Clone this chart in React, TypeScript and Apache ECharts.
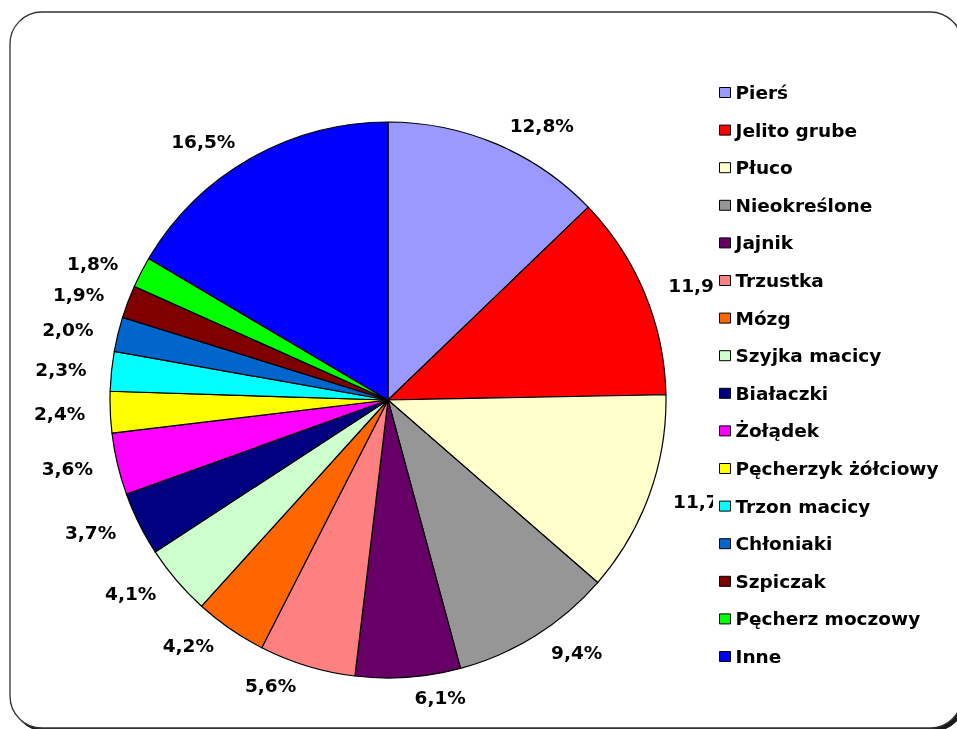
import React, { useEffect, useRef } from "react";
import * as echarts from "echarts";

const categories = [
  "Pierś",
  "Jelito grube",
  "Płuco",
  "Nieokreślone",
  "Jajnik",
  "Trzustka",
  "Mózg",
  "Szyjka macicy",
  "Białaczki",
  "Żołądek",
  "Pęcherzyk żółciowy",
  "Trzon macicy",
  "Chłoniaki",
  "Szpiczak",
  "Pęcherz moczowy",
  "Inne",
];

const values = [12.8, 11.9, 11.7, 9.4, 6.1, 5.6, 4.2, 4.1, 3.7, 3.6, 2.4, 2.3, 2.0, 1.9, 1.8, 16.5];

const colors = [
  "#9999FF",
  "#FF0000",
  "#FFFFCC",
  "#969696",
  "#660066",
  "#FF8080",
  "#FF6600",
  "#CCFFCC",
  "#000080",
  "#FF00FF",
  "#FFFF00",
  "#00FFFF",
  "#0066CC",
  "#800000",
  "#00FF00",
  "#0000FF",
];

const FONT = "'DejaVu Sans', Verdana, sans-serif";

export default function App() {
  const ref = useRef<HTMLDivElement>(null);

  useEffect(() => {
    if (!ref.current) return;
    const chart = echarts.init(ref.current, undefined, { renderer: "svg" });
    chart.setOption({
      animation: false,
      color: colors,
      graphic: [
        {
          type: "rect",
          z: -10,
          silent: true,
          shape: { x: 10, y: 12, width: 952, height: 716, r: 32 },
          style: {
            fill: "#ffffff",
            stroke: "#333333",
            lineWidth: 1.3,
            shadowColor: "rgba(0,0,0,0.9)",
            shadowOffsetX: 3,
            shadowOffsetY: 3,
            shadowBlur: 0,
          },
        },
      ],
      legend: {
        orient: "vertical",
        left: 713,
        top: 73,
        padding: [10, 4, 10, 6],
        backgroundColor: "#ffffff",
        itemWidth: 11,
        itemHeight: 10,
        itemGap: 18.6,
        icon: "rect",
        itemStyle: { borderColor: "#000000", borderWidth: 1 },
        textStyle: {
          fontFamily: FONT,
          fontWeight: "bold",
          fontSize: 18.5,
          color: "#000000",
          padding: [0, 0, 0, 0],
        },
        data: categories,
      },
      series: [
        {
          type: "pie",
          center: [388, 400],
          radius: 278,
          startAngle: 90,
          clockwise: true,
          avoidLabelOverlap: false,
          itemStyle: { borderColor: "#000000", borderWidth: 1.2 },
          emphasis: { disabled: true },
          label: {
            show: true,
            position: "outside",
            fontFamily: FONT,
            fontWeight: "bold",
            fontSize: 18.5,
            color: "#000000",
            formatter: (p: any) => p.value.toFixed(1).replace(".", ",") + "%",
          },
          labelLine: { show: false, length: 20, length2: 0 },
          data: categories.map((name, i) => ({ name, value: values[i] })),
        },
      ],
    });
    return () => chart.dispose();
  }, []);

  return (
    <div
      ref={ref}
      style={{ position: "fixed", left: 0, top: 0, width: 957, height: 729 }}
    />
  );
}
